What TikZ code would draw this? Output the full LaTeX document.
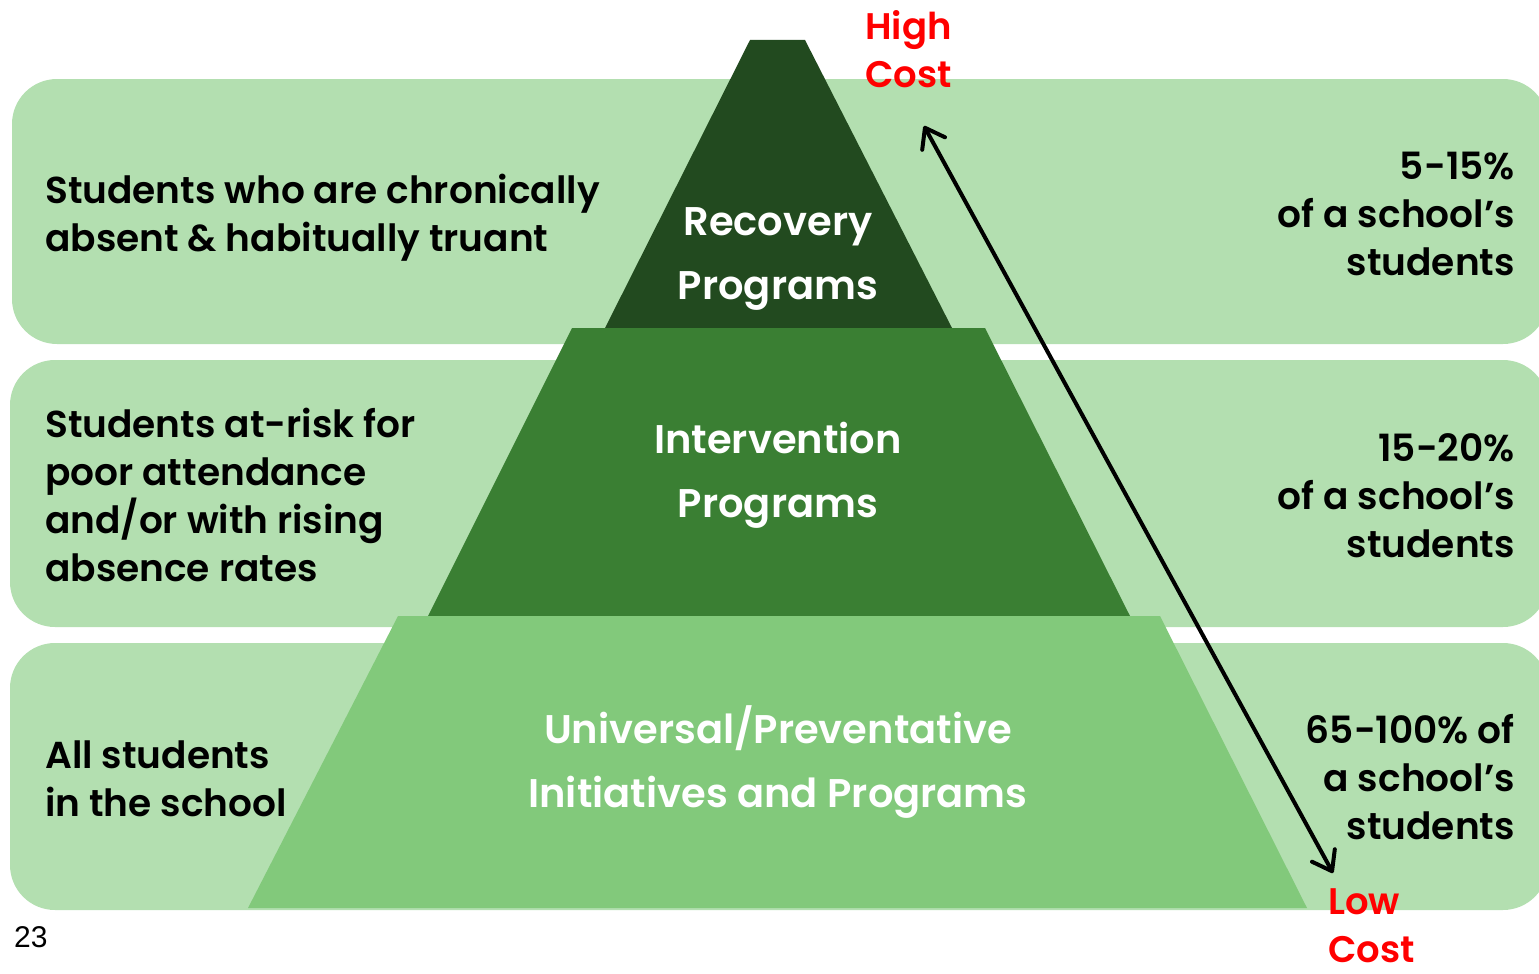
\documentclass[tikz,border=0pt]{standalone}
\usepackage{fontspec}
\usetikzlibrary{arrows.meta}
\newfontfamily\gothic{Poppins SemiBold}
\newfontfamily\pagefont{Liberation Sans}
\definecolor{bandgreen}{HTML}{B3DFB0}
\definecolor{topgreen}{HTML}{224A1F}
\definecolor{midgreen}{HTML}{3A7F33}
\definecolor{lowgreen}{HTML}{82C97B}
\definecolor{costred}{HTML}{FF0000}
\tikzset{
  band/.style={fill=bandgreen, rounded corners=45pt},
  lefttext/.style={anchor=base west, align=left, inner sep=0pt, font=\gothic\fontsize{37.5}{48}\selectfont},
  righttext/.style={anchor=base east, align=right, inner sep=0pt, font=\gothic\fontsize{37.5}{48}\selectfont},
  tiertext/.style={anchor=base, align=center, inner sep=0pt, text=white, font=\gothic\fontsize{40}{64}\selectfont},
  costtext/.style={anchor=base west, align=left, inner sep=0pt, text=costred, font=\gothic\fontsize{37}{48}\selectfont},
  barb/.tip={Straight Barb[length=18pt,width=26pt,round]}
}
\begin{document}
\begin{tikzpicture}[x=1pt,y=-1pt]
    \useasboundingbox (0,0) rectangle (1539,974);
    % bands
    \fill[band] (12,79) rectangle (1548,344);
    \fill[band] (10,360) rectangle (1548,627);
    \fill[band] (10,643) rectangle (1548,910);
    % pyramid
    \fill[topgreen] (750,40) -- (805,40) -- (952,328) -- (605,328) -- cycle;
    \fill[midgreen] (572,328) -- (985,328) -- (1130,616) -- (428,616) -- cycle;
    \fill[lowgreen] (398,616) -- (1160,616) -- (1307,908) -- (248,908) -- cycle;
    % tier labels (anchored at last baseline)
    \node[tiertext] (recovery) at (778,299) {Recovery\\Programs};
    \node[tiertext] (intervention) at (778,517) {Intervention\\Programs};
    \node[tiertext] (universal) at (778,807) {Universal/Preventative\\Initiatives and Programs};
    % left side
    \node[lefttext] (chronic) at (45,251) {Students who are chronically\\absent \& habitually truant};
    \node[lefttext] (atrisk) at (45,581) {Students at-risk for\\poor attendance\\and/or with rising\\absence rates};
    \node[lefttext] (allstud) at (45,816) {All students\\in the school};
    % right side
    \node[righttext] (pctone) at (1515,275) {5-15\%\\of a school’s\\students};
    \node[righttext] (pcttwo) at (1515,557) {15-20\%\\of a school’s\\students};
    \node[righttext] (pctthree) at (1515,839) {65-100\% of\\a school’s\\students};
    % cost arrow
    \node[costtext] (high) at (865,88) {High\\Cost};
    \node[costtext] (low) at (1328,962) {Low\\Cost};
    \coordinate (hightip) at (924,126);
    \coordinate (lowtip) at (1333,873);
    \draw[line width=4pt, barb-barb] (hightip) -- (lowtip);
    \node[anchor=base west, inner sep=0pt, font=\pagefont\fontsize{30}{36}\selectfont] (pagenum) at (14,947) {23};
\end{tikzpicture}
\end{document}
